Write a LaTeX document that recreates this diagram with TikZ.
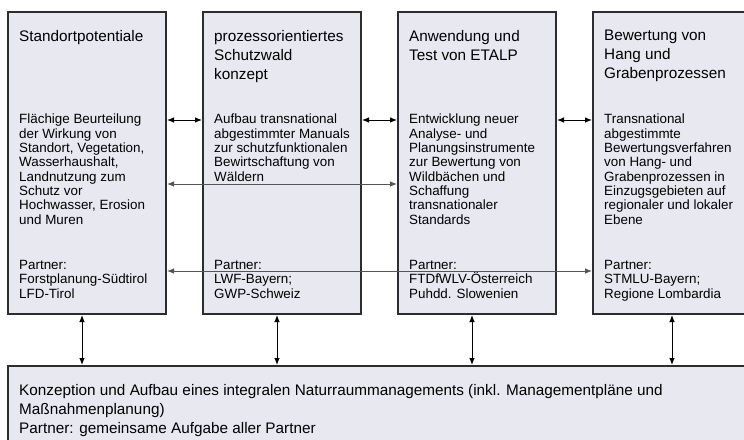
\documentclass[tikz,border=0pt]{standalone}
\usepackage{fontspec}
\setmainfont{Liberation Sans}
\usetikzlibrary{arrows.meta, positioning}

\definecolor{boxfill}{RGB}{232,233,240}
\definecolor{boxline}{RGB}{45,45,45}
\definecolor{linkgray}{RGB}{85,85,85}

\begin{document}
\begin{tikzpicture}[
    node distance=35pt,
    task/.style={
        draw=boxline,
        fill=boxfill,
        rectangle,
        line width=2pt,
        minimum width=158pt,
        minimum height=302pt,
        inner sep=0pt
    },
    base/.style={
        draw=boxline,
        fill=boxfill,
        rectangle,
        line width=2pt,
        minimum width=770pt,
        minimum height=100pt,
        inner sep=0pt
    },
    headtext/.style={
        inner sep=0pt,
        anchor=north west,
        align=left,
        font=\fontsize{15.3pt}{19pt}\selectfont
    },
    bodytext/.style={
        inner sep=0pt,
        anchor=north west,
        align=left,
        font=\fontsize{13.4pt}{14.3pt}\selectfont
    },
    link/.style={
        {Latex[length=7pt,width=5.5pt]}-{Latex[length=7pt,width=5.5pt]},
        line width=0.9pt,
        black
    },
    longlink/.style={
        link,
        linkgray
    }
]
\clip (0,0) rectangle (744pt,-439pt);
\useasboundingbox (0,0) rectangle (744pt,-439pt);

% Boxes
\node[task, anchor=north west] (stand) at (7pt,-11pt) {};
\node[task, right=of stand] (wald) {};
\node[task, right=of wald] (etalp) {};
\node[task, right=of etalp] (hang) {};
\node[base, below=50pt of stand.south west, anchor=north west] (nrm) {};

% Texts
\node[headtext] (stand-head) at ([shift={(12pt,-19pt)}]stand.north west) {Standortpotentiale};
\node[bodytext] (stand-body) at ([shift={(12pt,-103pt)}]stand.north west)
    {Flächige Beurteilung\\der Wirkung von\\Standort, Vegetation,\\Wasserhaushalt,\\Landnutzung zum\\Schutz vor\\Hochwasser, Erosion\\und Muren};
\node[bodytext] (stand-partner) at ([shift={(12pt,-249pt)}]stand.north west)
    {Partner:\\Forstplanung-Südtirol\\LFD-Tirol};

\node[headtext] (wald-head) at ([shift={(12pt,-19pt)}]wald.north west)
    {prozessorientiertes\\Schutzwald\\konzept};
\node[bodytext] (wald-body) at ([shift={(12pt,-103pt)}]wald.north west)
    {Aufbau transnational\\abgestimmter Manuals\\zur schutzfunktionalen\\Bewirtschaftung von\\Wäldern};
\node[bodytext] (wald-partner) at ([shift={(12pt,-249pt)}]wald.north west)
    {Partner:\\LWF-Bayern;\\GWP-Schweiz};

\node[headtext] (etalp-head) at ([shift={(12pt,-19pt)}]etalp.north west)
    {Anwendung und\\Test von ETALP};
\node[bodytext] (etalp-body) at ([shift={(12pt,-103pt)}]etalp.north west)
    {Entwicklung neuer\\Analyse- und\\Planungsinstrumente\\zur Bewertung von\\Wildbächen und\\Schaffung\\transnationaler\\Standards};
\node[bodytext] (etalp-partner) at ([shift={(12pt,-249pt)}]etalp.north west)
    {Partner:\\FTDfWLV-Österreich\\Puhdd. Slowenien};

\node[headtext] (hang-head) at ([shift={(12pt,-19pt)}]hang.north west)
    {Bewertung von\\Hang und\\Grabenprozessen};
\node[bodytext] (hang-body) at ([shift={(12pt,-103pt)}]hang.north west)
    {Transnational\\abgestimmte\\Bewertungsverfahren\\von Hang- und\\Grabenprozessen in\\Einzugsgebieten auf\\regionaler und lokaler\\Ebene};
\node[bodytext] (hang-partner) at ([shift={(12pt,-249pt)}]hang.north west)
    {Partner:\\STMLU-Bayern;\\Regione Lombardia};

\node[headtext] (nrm-text) at ([shift={(12pt,-19pt)}]nrm.north west)
    {Konzeption und Aufbau eines integralen Naturraummanagements (inkl. Managementpläne und\\Maßnahmenplanung)\\Partner: gemeinsame Aufgabe aller Partner};

% Connections between neighbours
\draw[link] ([yshift=-109pt]stand.north east) -- ([yshift=-109pt]wald.north west);
\draw[link] ([yshift=-109pt]wald.north east) -- ([yshift=-109pt]etalp.north west);
\draw[link] ([yshift=-109pt]etalp.north east) -- ([yshift=-109pt]hang.north west);

% Long connections drawn over the boxes
\draw[longlink] ([yshift=-173pt]stand.north east) -- ([yshift=-173pt]etalp.north west);
\draw[longlink] ([yshift=-260pt]stand.north east) -- ([yshift=-260pt]hang.north west);

% Down to the common task
\draw[link] ([xshift=75pt]stand.south west) -- ([xshift=75pt]stand.south west |- nrm.north);
\draw[link] ([xshift=75pt]wald.south west) -- ([xshift=75pt]wald.south west |- nrm.north);
\draw[link] ([xshift=75pt]etalp.south west) -- ([xshift=75pt]etalp.south west |- nrm.north);
\draw[link] ([xshift=80pt]hang.south west) -- ([xshift=80pt]hang.south west |- nrm.north);

\end{tikzpicture}
\end{document}
